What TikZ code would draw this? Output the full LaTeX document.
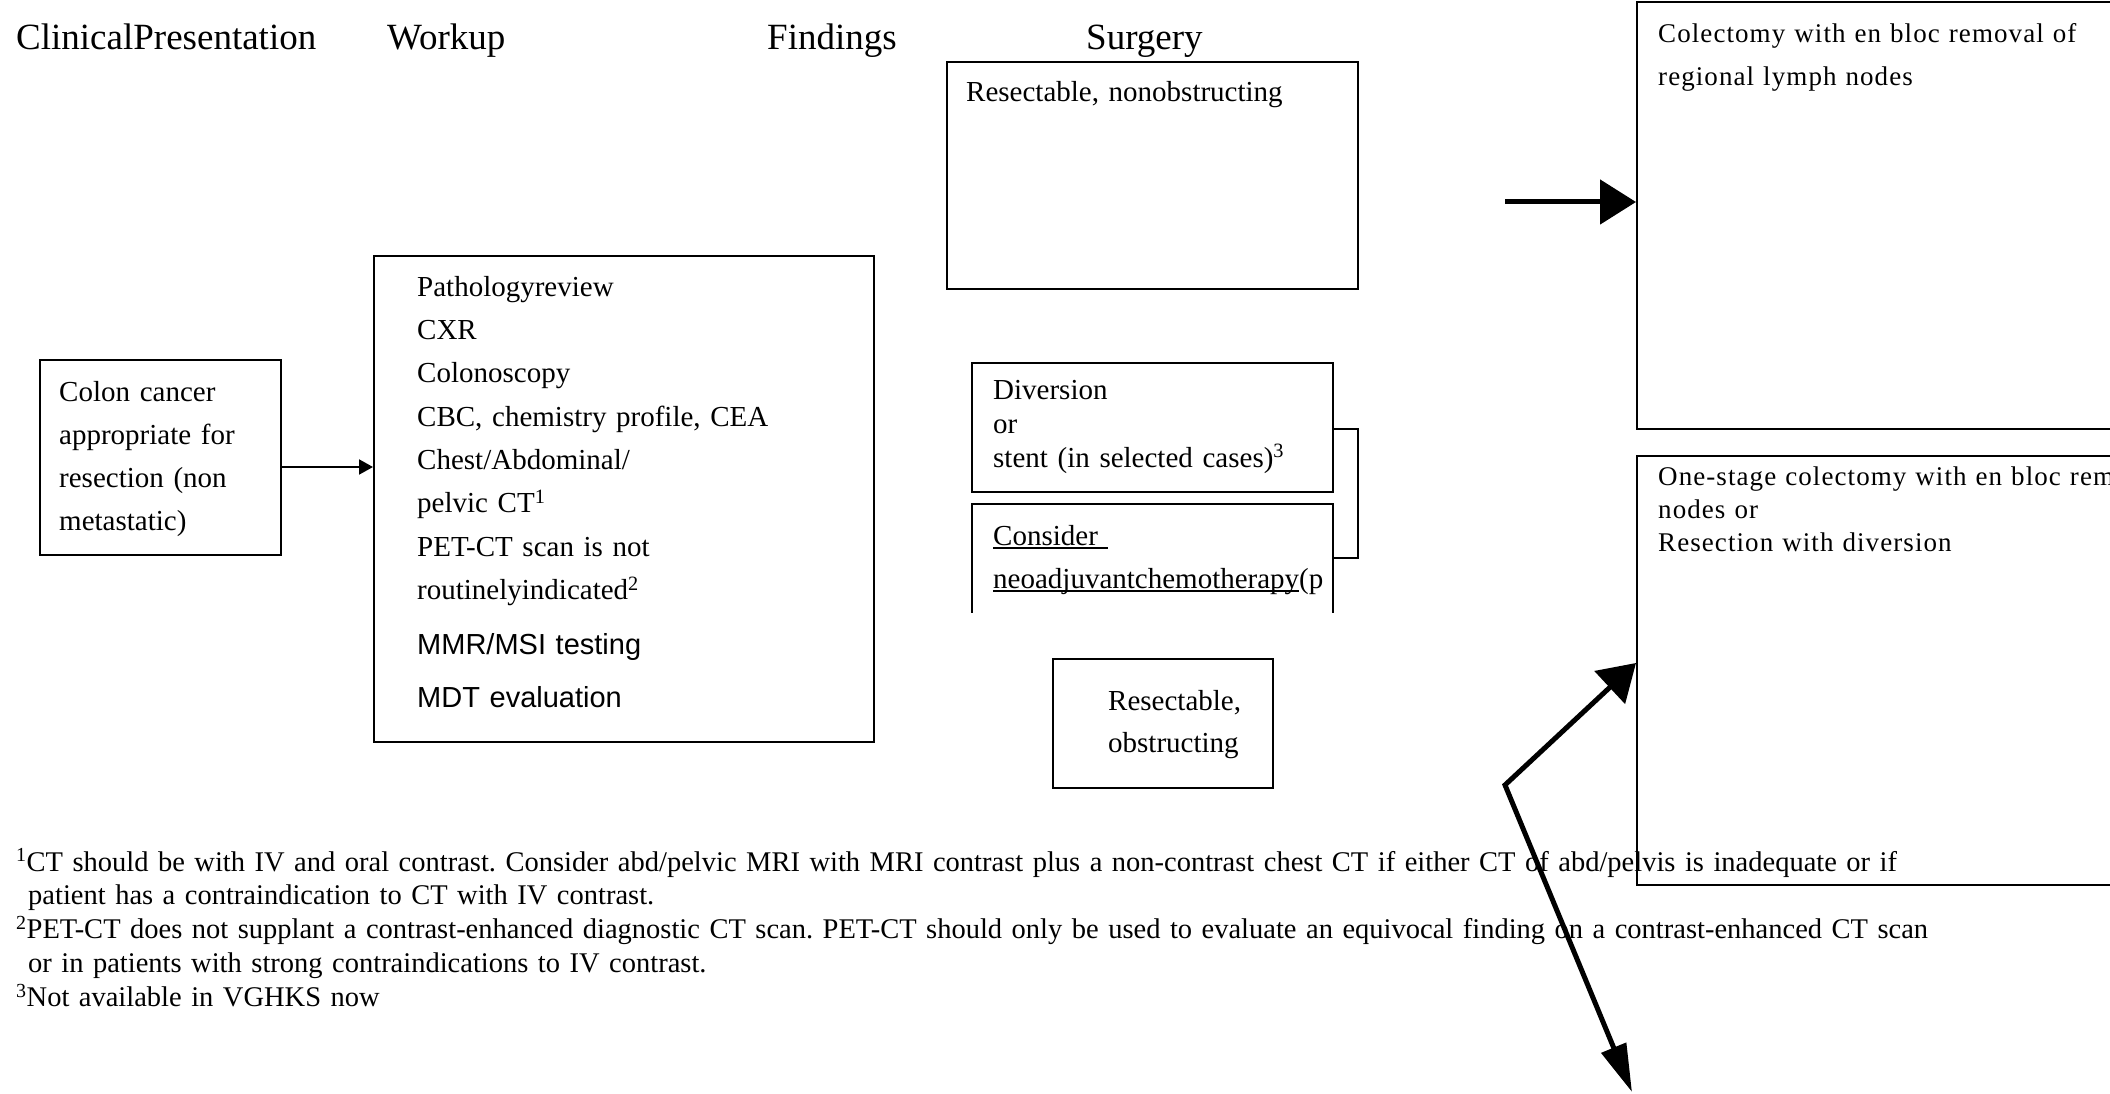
\documentclass[tikz,border=0pt]{standalone}
\usepackage{fontspec}
\setmainfont{Liberation Serif}
\newfontfamily\arialfont{Liberation Sans}
\newfontfamily\spacedserif[LetterSpace=4]{Liberation Serif}
\usetikzlibrary{arrows.meta}
\newsavebox\myulbox
\newcommand\myul[1]{\leavevmode\sbox\myulbox{#1}\rlap{\rule[-3.5pt]{\wd\myulbox}{1.6pt}}\usebox\myulbox}
\frenchspacing
\begin{document}
\begin{tikzpicture}[x=1pt,y=-1pt,
  boxstyle/.style={draw, line width=2pt, inner sep=0pt, anchor=north west},
  txt/.style={anchor=base west, inner sep=0pt, text width=#1, align=left},
  txt/.default=600pt,
  fs/.style={font=\fontsize{29}{#1}\selectfont},
  title/.style={anchor=base west, inner sep=0pt, font=\fontsize{37}{44}\selectfont},
  thin arrow/.style={line width=2pt, -{Triangle[length=14pt,width=15pt]}},
  big arrow/.style={line width=5pt, -{Triangle[length=36pt,width=44pt]}},
]
\useasboundingbox (0,0) rectangle (2110,1094);
\clip (0,0) rectangle (2110,1094);
\fill[white] (0,0) rectangle (2110,1094);

% titles
\node[title] (t1) at (16,50) {ClinicalPresentation};
\node[title] (t2) at (387,50) {Workup};
\node[title] (t3) at (767,50) {Findings};
\node[title] (t4) at (1086,50) {Surgery};

% clinical presentation
\node[boxstyle, minimum width=241pt, minimum height=195pt] (colon) at (39,359) {};
\node[txt, fs=43] (colontxt) at (59,401) {Colon cancer\\appropriate for\\resection (non\\metastatic)};

% workup
\node[boxstyle, minimum width=500pt, minimum height=486pt] (workup) at (373,255) {};
\node[txt, fs=43.4] (worktxt) at (417,296) {Pathologyreview\\CXR\\Colonoscopy\\CBC, chemistry profile, CEA\\Chest/Abdominal/\\pelvic CT\textsuperscript{1}\\PET-CT scan is not\\routinelyindicated\textsuperscript{2}\\[11pt]{\arialfont MMR/MSI testing}\\[10pt]{\arialfont MDT evaluation}};

% findings
\node[boxstyle, minimum width=411pt, minimum height=227pt] (nonobs) at (946,61) {};
\node[txt, fs=43] (nonobstxt) at (966,102) {Resectable, nonobstructing};

\node[boxstyle, minimum width=361pt, minimum height=129pt] (diversion) at (971,362) {};
\node[txt, fs=34] (divtxt) at (993,399) {Diversion\\or\\stent (in selected cases)\textsuperscript{3}};

\begin{scope}
\clip (955,495) rectangle (1345,612);
\node[boxstyle, minimum width=361pt, minimum height=140pt] (consider) at (971,503) {};
\node[txt, fs=43] (contxt) at (993,545) {\myul{Consider~}\\\myul{neoadjuvantchemotherapy}(p};
\end{scope}

\draw[line width=2pt] (diversion.east |- 0,429) -- ++(24,0) |- (consider.east |- 0,558);

\node[boxstyle, minimum width=220pt, minimum height=129pt] (obs) at (1052,658) {};
\node[txt, fs=42] (obstxt) at (1108,710) {Resectable,\\obstructing};

% surgery boxes
\node[boxstyle, minimum width=520pt, minimum height=427pt] (box1) at (1636,1) {};
\node[txt, font=\spacedserif\fontsize{27}{43}\selectfont] (box1txt) at (1658,43) {Colectomy with en bloc removal of\\regional lymph nodes};

\node[boxstyle, minimum width=520pt, minimum height=429pt] (box2) at (1636,455) {};
\node[txt, font=\spacedserif\fontsize{27}{33}\selectfont] (box2txt) at (1658,485) {One-stage colectomy with en bloc rem\\nodes or\\Resection with diversion};

% footnotes
\node[txt=2100pt, font=\fontsize{28.5}{33.8}\selectfont] (notes) at (16,871) {\textsuperscript{1}CT should be with IV and oral contrast. Consider abd/pelvic MRI with MRI contrast plus a non-contrast chest CT if either CT of abd/pelvis is inadequate or if\\\hspace*{12pt}patient has a contraindication to CT with IV contrast.\\\textsuperscript{2}PET-CT does not supplant a contrast-enhanced diagnostic CT scan. PET-CT should only be used to evaluate an equivocal finding on a contrast-enhanced CT scan\\\hspace*{12pt}or in patients with strong contraindications to IV contrast.\\\textsuperscript{3}Not available in VGHKS now};

% connectors
\draw[thin arrow] (colon.east |- 0,467) -- (workup.west |- 0,467);
\coordinate (a1) at (1505,202);
\draw[big arrow] (a1) -- (box1.west |- a1);
\coordinate (bend) at (1505,785);
\coordinate (downtip) at (1632,1092);
\draw[line width=5pt, line join=miter, {Triangle[length=48pt,width=26pt]}-{Triangle[length=36pt,width=44pt]}] (downtip) -- (bend) -- (box2.west |- 0,663);
\end{tikzpicture}
\end{document}
